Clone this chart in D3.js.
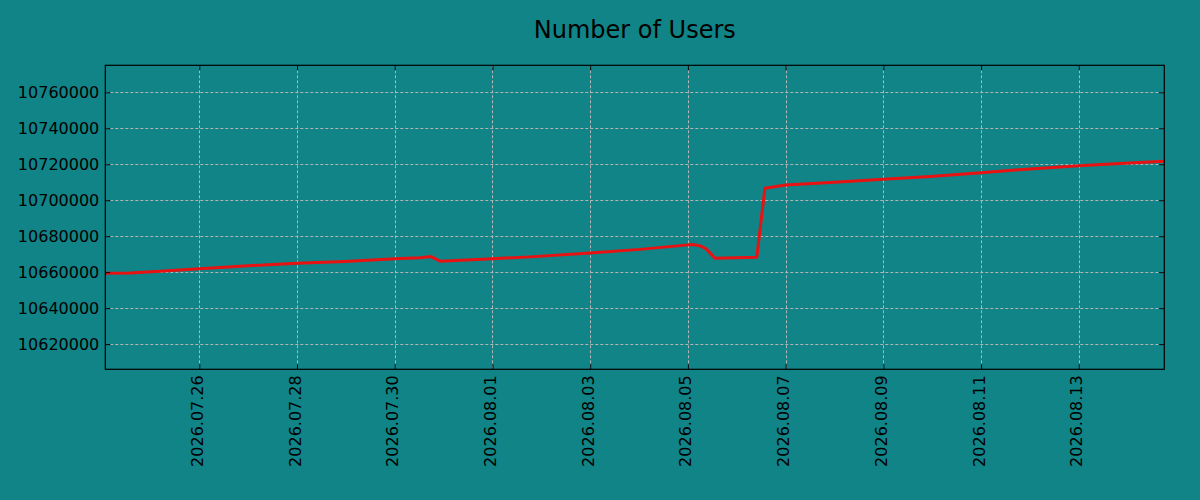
<!DOCTYPE html>
<html>
<head>
<meta charset="utf-8">
<script src="https://cdn.jsdelivr.net/npm/d3@7"></script>
<style>
  html, body { margin: 0; padding: 0; background: #118487; }
  svg { display: block; }
  text { font-family: "DejaVu Sans", sans-serif; fill: #000; }
</style>
</head>
<body>
<svg id="chart" width="1200" height="500"></svg>
<script>
const title = "Number of Users";

const dates = [
  "2026-07-24 01:50", "2026-07-24 14:00", "2026-07-25 04:40", "2026-07-26 00:00",
  "2026-07-26 20:00", "2026-07-28 00:00", "2026-07-28 23:30", "2026-07-30 00:00",
  "2026-07-30 12:20", "2026-07-30 17:50", "2026-07-30 22:15", "2026-08-01 00:00",
  "2026-08-01 18:30", "2026-08-03 00:00", "2026-08-04 00:30", "2026-08-05 00:00",
  "2026-08-05 02:30", "2026-08-05 06:00", "2026-08-05 09:00", "2026-08-05 11:45",
  "2026-08-05 13:15", "2026-08-06 09:50", "2026-08-06 13:50", "2026-08-07 00:00",
  "2026-08-07 21:50", "2026-08-09 00:00", "2026-08-09 23:00", "2026-08-11 00:00",
  "2026-08-12 00:00", "2026-08-13 00:00", "2026-08-13 20:10", "2026-08-14 18:00"
];

const users = [
  10659450, 10659600, 10660450, 10661830,
  10663330, 10665000, 10665900, 10667390,
  10667950, 10668670, 10666110, 10667500,
  10668500, 10670720, 10672670, 10675170,
  10675330, 10674610, 10672940, 10669610,
  10667780, 10668330, 10706670, 10708500,
  10709890, 10711670, 10713220, 10715330,
  10717390, 10719220, 10720440, 10721670
];

const yTicks = [10620000, 10640000, 10660000, 10680000, 10700000, 10720000, 10740000, 10760000];
const xTickLabels = ["2026.07.26", "2026.07.28", "2026.07.30", "2026.08.01", "2026.08.03",
                     "2026.08.05", "2026.08.07", "2026.08.09", "2026.08.11", "2026.08.13"];
const yDomain = [10606000, 10775000];

const parse = d3.timeParse("%Y-%m-%d %H:%M");
const parseTick = d3.timeParse("%Y.%m.%d");
const fmtTick = d3.timeFormat("%Y.%m.%d");
const data = dates.map((d, i) => ({ t: parse(d), v: users[i] }));
const xTicks = xTickLabels.map(parseTick);

const L = 105.3, R = 1164.3, T = 65.3, B = 369.3;
const svg = d3.select("#chart");

const x = d3.scaleTime().domain(d3.extent(data, d => d.t)).range([L, R]);
const y = d3.scaleLinear().domain(yDomain).range([B, T]);

// grid
const grid = svg.append("g").attr("stroke", "#b4b4b4").attr("stroke-width", 1)
  .attr("stroke-dasharray", "3,2").attr("fill", "none");
grid.selectAll("line.h").data(yTicks).join("line")
  .attr("x1", L).attr("x2", R)
  .attr("y1", d => Math.round(y(d)) + 0.5).attr("y2", d => Math.round(y(d)) + 0.5);
grid.selectAll("line.v").data(xTicks).join("line")
  .attr("y1", T).attr("y2", B)
  .attr("x1", d => Math.round(x(d)) + 0.5).attr("x2", d => Math.round(x(d)) + 0.5);

// line
const line = d3.line().x(d => x(d.t)).y(d => y(d.v));
svg.append("path").datum(data)
  .attr("d", line)
  .attr("fill", "none")
  .attr("stroke", "#e81212")
  .attr("stroke-width", 3)
  .attr("stroke-linejoin", "round");

// axes
const axLeft = svg.append("g").attr("transform", `translate(${L},0)`)
  .call(d3.axisLeft(y).tickValues(yTicks).tickSize(-5).tickPadding(6).tickFormat(d3.format("d")));
const axRight = svg.append("g").attr("transform", `translate(${R},0)`)
  .call(d3.axisRight(y).tickValues(yTicks).tickSize(-5).tickFormat(""));
const axBottom = svg.append("g").attr("transform", `translate(0,${B})`)
  .call(d3.axisBottom(x).tickValues(xTicks).tickSize(-5).tickFormat(fmtTick));
const axTop = svg.append("g").attr("transform", `translate(0,${T})`)
  .call(d3.axisTop(x).tickValues(xTicks).tickSize(-5).tickFormat(""));

[axLeft, axRight, axBottom, axTop].forEach(g => {
  g.select(".domain").remove();
  g.selectAll(".tick line").attr("stroke", "#000").attr("stroke-width", 1);
});

axLeft.selectAll("text").attr("font-size", 16).attr("fill", "#000")
  .attr("font-family", "DejaVu Sans").attr("dy", "0.33em");
axBottom.selectAll("text").attr("font-size", 16).attr("fill", "#000")
  .attr("font-family", "DejaVu Sans")
  .attr("transform", "rotate(-90)")
  .attr("text-anchor", "end")
  .attr("x", -6).attr("y", 3).attr("dy", 0);

// frame
svg.append("rect").attr("x", L).attr("y", T).attr("width", R - L).attr("height", B - T)
  .attr("fill", "none").attr("stroke", "#000").attr("stroke-width", 1.2);

// title
svg.append("text").attr("x", (L + R) / 2).attr("y", 38.3)
  .attr("text-anchor", "middle").attr("font-size", 24).text(title);
</script>
</body>
</html>
